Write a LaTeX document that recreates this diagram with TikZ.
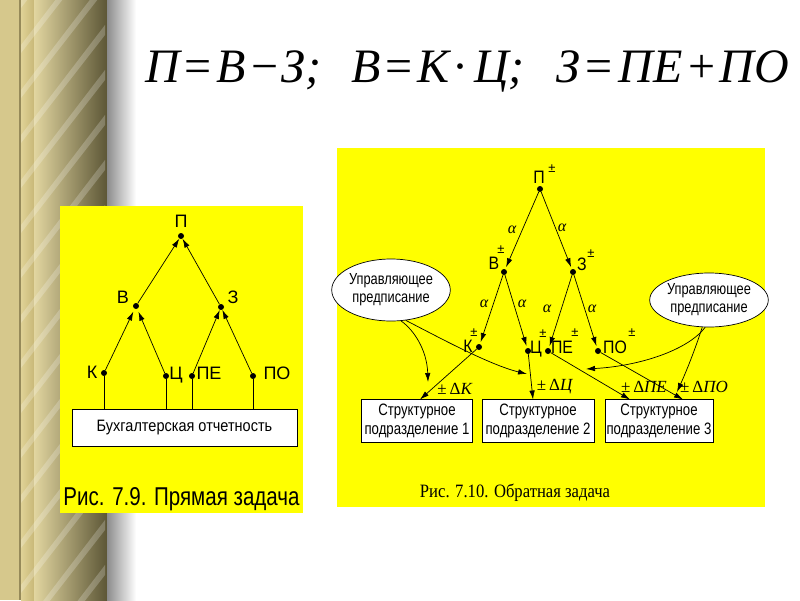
\documentclass[tikz,border=0pt]{standalone}
\usepackage{fontspec}
\setmainfont{Liberation Sans}
\newfontfamily\lsans{Liberation Sans}
\newfontfamily\csans[FakeStretch=0.8]{Liberation Sans}
\newfontfamily\msans[FakeStretch=0.88]{Liberation Sans}
\newfontfamily\lserif{Liberation Serif}
\usetikzlibrary{arrows.meta,shapes.geometric,calc}
\definecolor{yel}{RGB}{255,255,0}
\definecolor{stA}{RGB}{214,200,140}
\definecolor{stL}{RGB}{150,138,90}
\definecolor{stB}{RGB}{224,210,150}
\definecolor{stC}{RGB}{200,184,120}
\definecolor{stD}{RGB}{226,214,160}
\definecolor{stE}{RGB}{92,86,54}
\tikzset{
  arr/.style={-{Latex[length=9pt,width=5.5pt]}, line width=0.7pt},
  ln/.style={line width=0.7pt},
  dot/.style={circle,fill=black,inner sep=0pt,minimum size=6pt},
  llab/.style={font=\lsans\fontsize{18}{18}\selectfont, inner sep=0pt},
  rlab/.style={font=\msans\fontsize{18}{18}\selectfont, inner sep=0pt},
  pm/.style={font=\lsans\fontsize{13}{13}\selectfont, inner sep=0pt},
  alab/.style={font=\lserif\itshape\fontsize{16}{16}\selectfont, inner sep=0pt},
  dlab/.style={font=\lserif\fontsize{17}{17}\selectfont, inner sep=0pt},
  sbox/.style={draw, fill=white, line width=0.7pt, align=center, inner sep=0pt,
    font=\csans\fontsize{16.5}{18.5}\selectfont},
  cloud/.style={ellipse, draw, fill=white, line width=0.7pt, align=center, inner sep=0pt,
    font=\csans\fontsize{16}{18}\selectfont}
}
\begin{document}
\begin{tikzpicture}[x=1pt,y=-1pt]
\useasboundingbox (0,0) rectangle (800,600);
\fill[white] (0,0) rectangle (800,600);
% decorative stripe
\fill[stA] (0,0) rectangle (19,600);
\fill[stL] (19,0) rectangle (21,600);
\shade[left color=stB, right color=stC] (21,0) rectangle (34,600);
\shade[left color=stD, right color=stE] (34,0) rectangle (107,600);
\begin{scope}
  \clip (21,0) rectangle (105,600);
  \foreach \yy in {0,45,...,700}
    \fill[white,opacity=0.22] (21,\yy) -- (105,\yy-110) -- (105,\yy-100) -- (21,\yy+8) -- cycle;
\end{scope}
\shade[left color=black!45, right color=white] (107,0) rectangle (136,600);

% formula
\node[anchor=base west, inner sep=0pt, font=\lserif\itshape\fontsize{48}{48}\selectfont] (formula) at (145,82)
  {П\hspace{5pt}{\upshape=}\hspace{5pt}В\hspace{5pt}{\upshape−}\hspace{3pt}З;\hspace{30pt}В\hspace{5pt}{\upshape=}\hspace{5pt}К\hspace{3pt}{\upshape·}\hspace{6pt}Ц;\hspace{32pt}З\hspace{5pt}{\upshape=}\hspace{6pt}ПЕ\hspace{6pt}{\upshape+}\hspace{4pt}ПО};

% ---------------- left panel ----------------
\fill[yel] (60,206) rectangle (303,513);
\node[dot] (LP) at (181,236) {};
\node[dot] (LV) at (136,306) {};
\node[dot] (LZ) at (221,307) {};
\node[dot] (LK) at (104,373) {};
\node[dot] (LC) at (166,376) {};
\node[dot] (LPE) at (192,376) {};
\node[dot] (LPO) at (253,376) {};
\node[llab] (tLP) at (181,221) {П};
\node[llab] (tLV) at (123,297) {В};
\node[llab] (tLZ) at (233,297) {З};
\node[llab] (tLK) at (92,372) {К};
\node[llab] (tLC) at (176,375) {Ц};
\node[llab] (tLPE) at (209,373) {ПЕ};
\node[llab] (tLPO) at (277,373) {ПО};
\node[draw, fill=white, line width=0.7pt, minimum width=225pt, minimum height=37pt, inner sep=0pt,
      font=\msans\fontsize{16.5}{16.5}\selectfont] (LB) at (184.5,427.5) {Бухгалтерская отчетность};
\foreach \n in {LK,LC,LPE,LPO} \draw[ln] (\n) -- (\n |- LB.north);
\draw[arr, shorten >=3pt] (LK) -- (LV);
\draw[arr, shorten >=3pt] (LC) -- (LV);
\draw[arr] (LPE) -- (LZ);
\draw[arr] (LPO) -- (LZ);
\draw[arr] (LV) -- (LP);
\draw[arr] (LZ) -- (LP);
\node[anchor=base, inner sep=0pt] (capL) at (181.5,505)
  {\resizebox{236pt}{18pt}{\lsans Рис. 7.9. Прямая задача}};

% ---------------- right panel ----------------
\fill[yel] (337,148) rectangle (765,507);
\node[dot] (RP) at (540,189) {};
\node[dot] (RV) at (504,272) {};
\node[dot] (RZ) at (573,272) {};
\node[dot] (RK) at (479,347) {};
\node[dot] (RC) at (528,351) {};
\node[dot] (RPE) at (548,351) {};
\node[dot] (RPO) at (598,351) {};
\node[rlab] (tRP) at (539,177) {П};
\node[pm] (pRP) at (552,169) {±};
\node[rlab] (tRV) at (494,263) {В};
\node[pm] (pRV) at (501,250) {±};
\node[rlab] (tRZ) at (582,264) {З};
\node[pm] (pRZ) at (591,254) {±};
\node[rlab] (tRK) at (468,346) {К};
\node[pm] (pRK) at (474,333) {±};
\node[rlab] (tRC) at (536,349) {Ц};
\node[pm] (pRC) at (543,334) {±};
\node[rlab] (tRPE) at (562,347) {ПЕ};
\node[pm] (pRPE) at (575,333) {±};
\node[rlab] (tRPO) at (615,347) {ПО};
\node[pm] (pRPO) at (632,333) {±};
\node[alab] (a1) at (512,230) {α};
\node[alab] (a2) at (562,228) {α};
\node[alab] (a3) at (484,304) {α};
\node[alab] (a4) at (522,304) {α};
\node[alab] (a5) at (547,309) {α};
\node[alab] (a6) at (592,309) {α};

\draw[arr, shorten >=2pt] (RP) -- (RV);
\draw[arr, shorten >=2pt] (RP) -- (RZ);
\draw[arr, shorten >=2pt] (RV) -- (RK);
\draw[arr, shorten >=2pt] (RV) -- (RC);
\draw[arr, shorten >=2pt] (RZ) -- (RPE);
\draw[arr, shorten >=2pt] (RZ) -- (RPO);

\node[cloud, minimum width=104pt, minimum height=62pt] (EL) at (391,290) {Управляющее\\предписание};
\node[cloud, minimum width=104pt, minimum height=54pt] (ER) at (709,300) {Управляющее\\предписание};

\node[sbox, minimum width=110.6pt, minimum height=43pt] (B1) at (417,421) {Структурное\\подразделение 1};
\node[sbox, minimum width=112pt, minimum height=43pt] (B2) at (538,421) {Структурное\\подразделение 2};
\node[sbox, minimum width=108pt, minimum height=43pt] (B3) at (659,421) {Структурное\\подразделение 3};

\coordinate (b1a) at (420,399.5);
\coordinate (b2a) at (533,399.5);
\coordinate (b3a) at (630,399.5);
\coordinate (b3b) at (683,399.5);
\coordinate (e1end) at (428,382);
\coordinate (cC) at (527,374);
\coordinate (e3end) at (677,392);
\coordinate (cPE) at (586,369);

\draw[arr] (RK) -- (b1a);
\draw[arr] (RC) -- (b2a);
\draw[arr] (RPE) -- (b3a);
\draw[arr] (RPO) -- (b3b);

\draw[arr] (EL.288) .. controls (414,330) and (427,350) .. (e1end);
\draw[arr] (EL.296) .. controls (440,338) and (490,365) .. (cC);
\draw[arr] (ER.256) .. controls (695,350) and (686,372) .. (e3end);
\draw[arr] (ER.262) .. controls (688,350) and (640,366) .. (cPE);

\node[dlab] (dK) at (455,389) {±\,Δ\textit{К}};
\node[dlab] (dC) at (555,387) {±\,Δ\textit{Ц}};
\node[dlab] (dPE) at (644,387) {±\,Δ\textit{ПЕ}};
\node[dlab] (dPO) at (704,387) {±\,Δ\textit{ПО}};

\node[anchor=base, inner sep=0pt] (capR) at (515,497)
  {\resizebox{190pt}{13.5pt}{\lserif Рис. 7.10. Обратная задача}};
\end{tikzpicture}
\end{document}
